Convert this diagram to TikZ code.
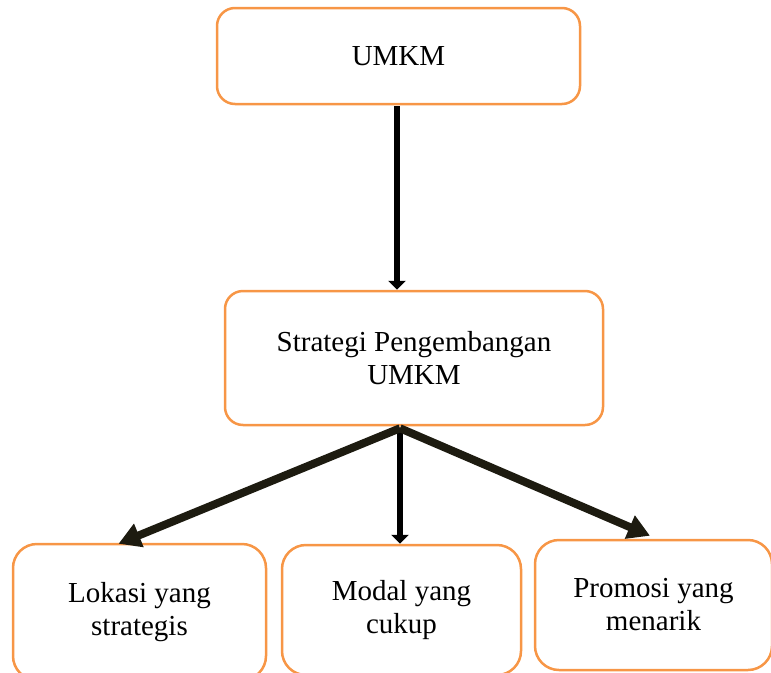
\documentclass[tikz,border=0pt]{standalone}
\usepackage{fontspec}
\setmainfont{Liberation Serif}
\usetikzlibrary{arrows.meta,calc}
\definecolor{boxorange}{HTML}{F79646}
\definecolor{arrowdark}{HTML}{1D1B10}
\begin{document}
\begin{tikzpicture}[x=1pt,y=-1pt,
 box/.style={draw=boxorange,line width=2.5pt,rounded corners=18pt,align=center,font=\fontsize{29}{33}\selectfont,inner sep=0pt},
 thinarrow/.style={draw=black,line width=6pt,-{Triangle[length=9pt,width=17pt]}},
 fatarrow/.style={draw=arrowdark,line width=8pt,-{Triangle[length=22pt,width=24pt]}}]
\useasboundingbox (0,0) rectangle (771,672);
\node[box,minimum width=363pt,minimum height=96pt] (umkm) at (398.5,56) {UMKM};
\node[box,minimum width=378pt,minimum height=134pt] (strat) at (414,358) {Strategi Pengembangan\\UMKM};
\node[box,minimum width=253pt,minimum height=136pt,rounded corners=24pt] (lok) at (139.5,612) {Lokasi yang\\strategis};
\node[box,minimum width=239pt,minimum height=130pt,rounded corners=24pt] (mod) at (401.5,610) {Modal yang\\cukup};
\node[box,minimum width=237pt,minimum height=130pt,rounded corners=24pt] (prom) at (653.5,605) {Promosi yang\\menarik};
\coordinate (topstart) at ($(umkm.south)+(-1.5,1)$);
\coordinate (hub) at ($(strat.south)+(-14,2)$);
\coordinate (lokend) at ($(lok.north)+(-21,1)$);
\coordinate (promend) at ($(prom.north)+(-3.5,-3)$);
\draw[thinarrow] (topstart) -- (topstart |- strat.north);
\draw[thinarrow] (hub) -- (hub |- mod.north);
\draw[fatarrow] (hub) -- (lokend);
\draw[fatarrow] (hub) -- (promend);
\end{tikzpicture}
\end{document}
